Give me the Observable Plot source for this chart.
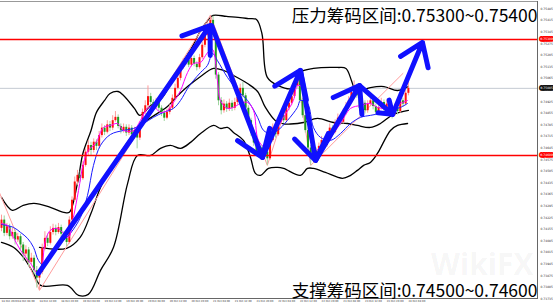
<!DOCTYPE html>
<html><head><meta charset="utf-8">
<script src="https://cdn.jsdelivr.net/npm/d3@7"></script>
<script src="https://cdn.jsdelivr.net/npm/@observablehq/plot@0.6"></script>
<style>html,body{margin:0;padding:0;background:#fff}svg{display:block}</style>
</head><body><div id="chart"></div>
<script>
// Prices in points (price x 1e5), H1 candles indexed 0..150
const firstOpen = 74160;
const closes = [74210,74130,74170,74110,74135,74090,74110,74060,74005,74030,
 73955,73980,73905,73860,73895,74040,74100,74070,74135,74160,
 74135,74165,74125,74100,74075,74210,74330,74440,74480,74460,
 74540,74620,74660,74630,74680,74655,74720,74765,74740,74785,
 74765,74810,74830,74775,74750,74770,74735,74765,74725,74750,
 74705,74780,74860,74900,74955,74920,74895,74925,74885,74855,
 74825,74860,74885,74945,75005,75065,75130,75160,75175,75145,
 75185,75150,75130,75190,75265,75325,75385,75415,75325,75085,
 74930,74870,74910,74880,74915,74885,74920,74950,75005,74960,
 74885,74810,74735,74675,74620,74645,74600,74620,74580,74690,
 74765,74725,74800,74840,74810,74885,74915,74955,75020,75070,
 74930,74840,74750,74645,74580,74630,74600,74655,74690,74660,
 74720,74765,74740,74795,74825,74800,74860,74895,74930,74980,
 75015,74960,74885,74915,74870,74910,74930,74895,74860,74890,
 74920,74885,74910,74870,74850,74890,74865,74930,74910,74975,
 75005];
const highs = [74240,74235,74190,74185,74160,74150,74130,74125,74075,74055,
 74045,74010,73995,73930,73910,74065,74140,74125,74170,74185,
 74180,74190,74180,74140,74115,74230,74350,74470,74510,74505,
 74565,74640,74690,74680,74700,74695,74745,74790,74780,74810,
 74805,74840,74865,74845,74790,74790,74785,74785,74780,74770,
 74765,74800,74880,74930,75020,74975,74935,74945,74940,74900,
 74870,74880,74905,74965,75030,75090,75155,75185,75200,75195,
 75205,75200,75165,75210,75285,75345,75405,75445,75440,75340,
 75100,74950,74935,74925,74940,74930,74945,74975,75030,75040,
 74975,74900,74825,74750,74690,74670,74660,74640,74635,74710,
 74790,74780,74820,74865,74855,74905,74940,74980,75045,75100,
 75085,74945,74860,74765,74660,74650,74645,74675,74715,74705,
 74745,74790,74780,74815,74850,74845,74880,74920,74955,75005,
 75050,75030,74975,74935,74930,74930,74955,74945,74910,74910,
 74945,74935,74930,74925,74885,74910,74905,74950,74945,75000,
 75040];
const lows = [74140,74110,74115,74090,74095,74060,74075,74030,73960,73990,
 73930,73940,73880,73800,73786,73880,74025,74050,74060,74120,
 74115,74125,74105,74085,74050,74065,74195,74320,74420,74440,
 74450,74530,74600,74600,74615,74630,74640,74705,74720,74730,
 74745,74750,74800,74760,74730,74735,74715,74720,74700,74710,
 74640,74690,74770,74845,74885,74900,74875,74880,74865,74835,
 74805,74815,74845,74875,74935,74995,75050,75120,75145,75130,
 75135,75135,75110,75120,75180,75250,75315,75370,75310,75060,
 74900,74845,74855,74860,74865,74865,74870,74905,74940,74945,
 74870,74795,74715,74655,74600,74605,74580,74585,74540,74570,
 74680,74705,74715,74785,74795,74800,74870,74900,74945,75005,
 74915,74825,74735,74625,74540,74565,74580,74590,74640,74640,
 74650,74705,74720,74730,74780,74780,74790,74845,74880,74920,
 74965,74945,74865,74870,74850,74855,74895,74875,74840,74845,
 74875,74865,74870,74850,74820,74835,74845,74855,74890,74900,
 74960];

// Indicator readings [candle index, points]
const bbUpper = [[0,74347],[4,74269],[8,74299],[12,74311],[18,74287],[23,74257],[25,74257],[28,74432],[30,74612],[33,74751],[35,74860],[38,74932],[40,74974],[43,74986],[45,74962],[49,74884],[51,74842],[55,74902],[59,74944],[62,75022],[66,75143],[70,75246],[73,75342],[76,75414],[78,75445],[83,75439],[88,75432],[91,75426],[94,75420],[96,75336],[98,75071],[102,75022],[107,75004],[110,75101],[115,75125],[124,75131],[127,75125],[129,75053],[130,75010],[132,74992],[136,75010],[141,75016],[146,74992],[150,75016]];
const bbMiddle = [[14,74046],[24,74040],[29,74106],[33,74251],[36.5,74407],[41.3,74552],[45.7,74661],[51.2,74781],[57.5,74854],[61.2,74896],[65,74962],[68.6,75016],[73.4,75077],[78.2,75125],[81.8,75113],[85.5,75083],[90.7,75034],[94.4,74986],[97.3,74890],[101,74810],[104,74790],[106.5,74790],[111.3,74799],[116.5,74824],[122.4,74799],[127.6,74793],[131.2,74781],[136,74769],[139.7,74793],[144.5,74848],[150,74872]];
const bbLower = [[0,74076],[4.4,74046],[8.1,73985],[11.8,73889],[14.4,73816],[24.3,73816],[28.4,73756],[32,73762],[36.5,73907],[41.3,74046],[46.5,74432],[50.1,74600],[55,74600],[58.6,74643],[62.3,74661],[66,74643],[69.7,74679],[73.4,74733],[78.2,74781],[80.7,74763],[83.3,74769],[85.5,74739],[89.2,74691],[91.8,74588],[93.6,74492],[95.5,74480],[98.4,74522],[101.8,74528],[104,74522],[110.2,74480],[112.8,74522],[115,74522],[119.4,74498],[125.7,74462],[128.7,74480],[131.2,74510],[133.5,74540],[136,74558],[138.6,74612],[143.4,74751],[146,74781],[149.7,74793]];
const maFast = [[0,74190],[2.2,74178],[4.4,74106],[7,74028],[10.7,73949],[13.3,73889],[14.4,73895],[16.2,74088],[18,74148],[20.6,74160],[22.9,74130],[24.7,74106],[26.5,74226],[28.4,74389],[30.2,74552],[32,74631],[34.7,74673],[37.6,74769],[40.2,74781],[42.8,74793],[45,74751],[48.7,74751],[51.2,74811],[53.8,74884],[56,74896],[58.6,74860],[61.2,74872],[63.4,74920],[66,74992],[68.6,75101],[70.8,75155],[73.4,75161],[75.2,75203],[76.5,75230],[77.8,75240],[79.6,75053],[80.7,74932],[83.3,74884],[85.5,74890],[88.1,74914],[90.7,74920],[92.9,74872],[94.7,74691],[97.3,74649],[99.2,74691],[101.8,74769],[104,74830],[107.6,74932],[109.1,75022],[111,75010],[112.8,74830],[113.9,74691],[115.8,74631],[117.6,74649],[120.2,74673],[122.4,74733],[125,74793],[128.7,74884],[132.4,74902],[136,74914],[138.6,74890],[142.3,74884],[144.5,74890],[147.1,74914],[149.7,74932]];
const maSlow = [[0,74184],[4.4,74166],[7,74136],[9.6,74100],[11.8,74046],[13.6,73967],[15.5,73937],[19.2,74028],[22.9,74088],[25.4,74130],[29.1,74226],[31.7,74359],[33.9,74540],[36.5,74661],[40.2,74727],[45,74751],[48.7,74763],[52.4,74793],[56,74830],[59.7,74860],[63.4,74884],[66,74932],[68.6,75004],[70.8,75053],[73.4,75101],[75.9,75143],[77.8,75215],[79.6,75173],[83.3,75071],[87,74992],[90.7,74932],[94.4,74830],[96.6,74751],[99.2,74733],[101.8,74751],[105.4,74811],[109.1,74890],[110.2,74932],[112.8,74914],[115,74769],[117.6,74709],[121.3,74691],[125,74733],[128.7,74793],[132.4,74830],[136,74842],[139.7,74854],[143.4,74872],[147.1,74890],[149.7,74914]];
const zigzag = [[-3,74465],[14,73786],[77,75445],[98,74540],[109,75100],[114,74540],[148,75095]];
// Hand-drawn arrows [from index, from points, to index, to points]
const arrowSegs = [[13.6,73889,76.9,75384],[77.5,75384,96.2,74588],[96.2,74588,110.2,75113],[110.2,75113,115.8,74570],[115.8,74570,132,75022],[132,75022,144.2,74848],[144.2,74848,155.2,75282]];
const zoneLevels = [75300, 74600];
const yTicks = [75485,75415,75345,75275,75205,75135,75065,74995,74925,74855,74785,74715,74645,74575,74505,74435,74365,74295,74225,74155,74085,74015,73945,73875,73805,73735];
const xTickIdx = [0,6,14,22,30,38,46,54,62,70,78,86,94,102,110,118,126,134,142,150];
const xTickText = ["18 Oct 2020","18 Oct 04:00","18 Oct 12:00","18 Oct 20:00","19 Oct 04:00","19 Oct 12:00","19 Oct 20:00","20 Oct 04:00","20 Oct 12:00","20 Oct 20:00","21 Oct 04:00","21 Oct 12:00","21 Oct 20:00","22 Oct 04:00","22 Oct 12:00","22 Oct 20:00","23 Oct 04:00","23 Oct 12:00","23 Oct 20:00","24 Oct 04:00"];
const pressureText = "压力筹码区间:0.75300~0.75400";
const supportText = "支撑筹码区间:0.74500~0.74600";

const P = v => v / 1e5;
const candles = closes.map((c, i) => ({i, o: P(i ? closes[i-1] : firstOpen), c: P(c), h: P(highs[i]), l: P(lows[i])}));
const ups = candles.filter(d => d.c >= d.o), downs = candles.filter(d => d.c < d.o);
const pts = a => a.map(([i, v]) => ({i, p: P(v)}));
const arrows = arrowSegs.map(([i1, v1, i2, v2]) => ({i1, p1: P(v1), i2, p2: P(v2)}));
const lastPrice = P(closes[closes.length - 1]);
const line = (a, stroke, sw) => Plot.line(pts(a), {x: "i", y: "p", curve: "catmull-rom", stroke, strokeWidth: sw, clip: true});
const axisFont = "DejaVu Sans, sans-serif";
const cjk = "'Noto Sans CJK SC', 'Noto Sans', sans-serif";

const chart = Plot.plot({
  width: 553, height: 305,
  marginLeft: 0, marginRight: 16, marginTop: 1, marginBottom: 7,
  x: {domain: [-0.37, 197.6], axis: null},
  y: {domain: [0.73737, 0.75529], axis: null},
  style: {background: "#fff", overflow: "visible"},
  marks: [
    Plot.ruleY([lastPrice], {stroke: "#c5cad2", strokeWidth: 1}),
    line(bbUpper, "#000", 1.3),
    line(bbMiddle, "#000", 1.3),
    line(bbLower, "#000", 1.3),
    Plot.line(pts(zigzag), {x: "i", y: "p", stroke: "#ff9c9c", strokeWidth: 1, clip: true}),
    Plot.ruleX(ups, {x: "i", y1: "l", y2: "h", stroke: "#ff9a9a", strokeWidth: 1}),
    Plot.ruleX(downs, {x: "i", y1: "l", y2: "h", stroke: "#9fd49f", strokeWidth: 1}),
    Plot.ruleX(ups, {x: "i", y1: "o", y2: "c", stroke: "#ff1010", strokeWidth: 2}),
    Plot.ruleX(downs, {x: "i", y1: "o", y2: "c", stroke: "#1f9a1f", strokeWidth: 2}),
    line(maSlow, "#1a1aff", 1),
    line(maFast, "#ff00ff", 1),
    Plot.ruleY(zoneLevels.map(P), {stroke: "#ff0000", strokeWidth: 1.5}),
    Plot.arrow(arrows, {x1: "i1", y1: "p1", x2: "i2", y2: "p2", stroke: "#1010ff", strokeWidth: 5, headLength: 9, headAngle: 70}),
    Plot.frame({anchor: "top", stroke: "#999"}),
    Plot.frame({anchor: "right", stroke: "#666"}),
    Plot.frame({anchor: "bottom", stroke: "#666"}),
    Plot.text(yTicks.map(P), {y: d => d, text: d => d.toFixed(5), frameAnchor: "right", textAnchor: "start", dx: 3, fontSize: 3, fill: "#333", fontFamily: axisFont}),
    Plot.text(zoneLevels.map(P), {y: d => d, text: d => d.toFixed(5), frameAnchor: "right", textAnchor: "start", dx: 3, fontSize: 3, fill: "#fff", stroke: "#ff0000", strokeWidth: 3.5, paintOrder: "stroke", fontFamily: axisFont}),
    Plot.text([lastPrice], {y: d => d, text: d => d.toFixed(5), frameAnchor: "right", textAnchor: "start", dx: 3, fontSize: 3, fill: "#fff", stroke: "#111", strokeWidth: 3.5, paintOrder: "stroke", fontFamily: axisFont}),
    Plot.text(xTickIdx, {x: d => d, text: (d, i) => xTickText[i], frameAnchor: "bottom", textAnchor: "start", lineAnchor: "top", dy: 2, fontSize: 2.6, fill: "#333", fontFamily: axisFont}),
    Plot.text(["WikiFX"], {text: d => d, frameAnchor: "bottom-right", textAnchor: "end", lineAnchor: "bottom", dx: -4, dy: -24, fontSize: 30, fontWeight: "bold", fill: "#000", fillOpacity: 0.05, fontFamily: "Open Sans"}),
    Plot.text([pressureText], {text: d => d, frameAnchor: "top-right", textAnchor: "end", lineAnchor: "bottom", dy: 20, fontSize: 17.5, fill: "#000", fontFamily: cjk}),
    Plot.text([supportText], {text: d => d, frameAnchor: "bottom-right", textAnchor: "end", lineAnchor: "bottom", dy: -2, fontSize: 17.5, fill: "#000", fontFamily: cjk})
  ]
});
document.getElementById("chart").append(chart);
</script></body></html>
